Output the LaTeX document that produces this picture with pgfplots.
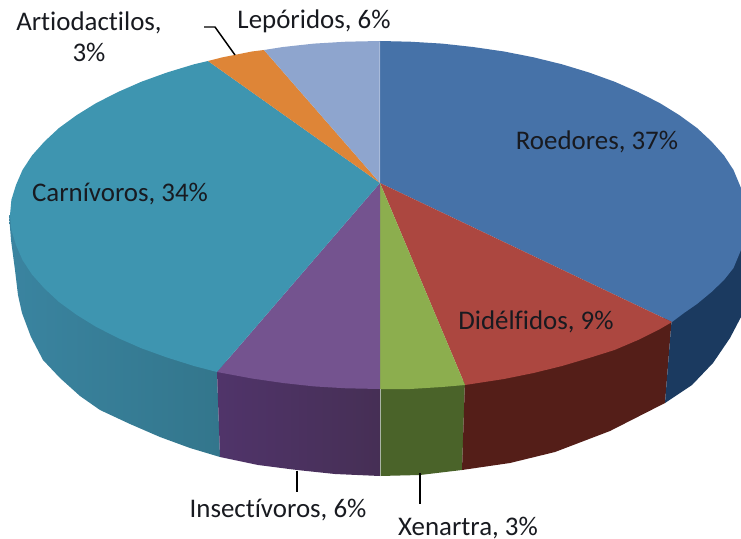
\documentclass[border=0pt]{standalone}
\usepackage{pgfplots}
\pgfplotsset{compat=1.18}
\usepackage{fontspec}
\setmainfont[Ligatures=NoCommon]{Carlito}
\definecolor{roe}{HTML}{4672A8}
\definecolor{did}{HTML}{AC4740}
\definecolor{xen}{HTML}{8CAE4E}
\definecolor{ins}{HTML}{74538F}
\definecolor{car}{HTML}{3E95B0}
\definecolor{art}{HTML}{DE8537}
\definecolor{lep}{HTML}{8EA5CE}
\definecolor{roeS}{HTML}{1B3A60}
\definecolor{didS}{HTML}{541E18}
\definecolor{xenS}{HTML}{4A6329}
\definecolor{insSa}{HTML}{50346A}
\definecolor{insSb}{HTML}{462F55}
\definecolor{carSa}{HTML}{3A84A0}
\definecolor{carSb}{HTML}{33768C}
\definecolor{txt}{HTML}{181A20}
\begin{document}
\begin{tikzpicture}
\path[use as bounding box] (0,0) rectangle (741bp,539bp);
\begin{axis}[width=741bp,height=539bp,scale only axis,hide axis,
  xmin=0,xmax=741,ymin=0,ymax=539,y dir=reverse,clip=false,enlargelimits=false]
% sides
\addplot[draw=none,left color=carSa,right color=carSb] coordinates {(9,215)(11,240)(15,270)(18,295)(22,313)(31,337)(43,360)(60,378)(80,396)(100,410)(130,424)(160,437)(190,448)(220,457)(217,372)(217,300)};
\addplot[draw=none,left color=insSa,right color=insSb] coordinates {(217,372)(220,457)(258,465)(297,470)(335,474)(380,476)(380,380)(217,360)};
\addplot[draw=none,fill=xenS] coordinates {(380,476)(420,475)(462,470)(465,380)(380,380)};
\addplot[draw=none,fill=didS] coordinates {(462,470)(510,463)(555,452)(610,431)(665,403)(672,315)(465,380)};
\addplot[draw=none,fill=roeS] coordinates {(665,403)(692,385)(713,363)(730,338)(741,317)(741,245)(672,315)};
% tops
\addplot[draw=none,fill=roe] coordinates {(380,183)(380,41)(410,41.7)(442,43.6)(473,47)(504,51.5)(533.5,57.3)(562,64.3)(589,72.5)(614.5,81.7)(638,92)(660,103.2)(679.4,115.2)(697,128)(711.5,141.5)(724,155.5)(733.5,170)(741,188)(741,250)(733.5,268)(724,280)(711.5,292)(697,304)(684,313)(672,322)};
\addplot[draw=none,fill=did] coordinates {(380,183)(672,322)(660,329)(638,340)(614.5,350)(589,358)(562,366)(533.5,373)(504,379)(465,385)};
\addplot[draw=none,fill=xen] coordinates {(380,183)(465,385)(442,387)(410,389)(380,389)};
\addplot[draw=none,fill=ins] coordinates {(380,183)(380,389)(346,388.3)(314,386.4)(283,383)(252,378.5)(217,372)};
\addplot[draw=none,fill=car] coordinates {(380,183)(217,372)(194,366)(167,357.5)(141.5,348.3)(118,338)(96,326.8)(76.6,314.8)(59,302)(44.5,288.5)(32,274.5)(22.5,260)(16,245)(11.4,230)(10,215)(11.4,199.8)(16,185)(22.5,170)(32,155.5)(44.5,141.5)(59,128)(76.6,115.2)(96,103.2)(118,92)(141.5,81.7)(167,72.5)(194,64.3)(208,61)};
\addplot[draw=none,fill=art] coordinates {(380,183)(208,61)(222.5,57.3)(252,51.5)(264,50)};
\addplot[draw=none,fill=lep] coordinates {(380,183)(264,50)(283,47)(314,43.6)(346,41.7)(380,41)};
% seams
\addplot[draw={rgb,255:red,168;green,186;blue,218},line width=1.6pt] coordinates {(379.5,42)(379.5,182)};
\addplot[draw={rgb,255:red,170;green,180;blue,165},line width=0.8pt] coordinates {(380,389)(380,476)};
% leaders
\addplot[draw=black,line width=1.5pt] coordinates {(204,27)(215,27)(235,55)};
\addplot[draw=black,line width=1.4pt] coordinates {(297,471)(297,492)};
\addplot[draw=black,line width=1.4pt] coordinates {(420,473)(420,504)};
% labels
\node[text=txt,font=\fontsize{27}{31}\selectfont,align=center] at (axis cs:89,37) {Artiodactilos,\\3\%};
\node[text=txt,font=\fontsize{27}{31}\selectfont] at (axis cs:314,21) {Lepóridos, 6\%};
\node[text=txt,font=\fontsize{27}{31}\selectfont] at (axis cs:597,142) {Roedores, 37\%};
\node[text=txt,font=\fontsize{27}{31}\selectfont] at (axis cs:120,194) {Carnívoros, 34\%};
\node[text=txt,font=\fontsize{27}{31}\selectfont] at (axis cs:536,322) {Didélfidos, 9\%};
\node[text=txt,font=\fontsize{27}{31}\selectfont] at (axis cs:278,510) {Insectívoros, 6\%};
\node[text=txt,font=\fontsize{27}{31}\selectfont] at (axis cs:468,528) {Xenartra, 3\%};
\end{axis}
\end{tikzpicture}
\end{document}
